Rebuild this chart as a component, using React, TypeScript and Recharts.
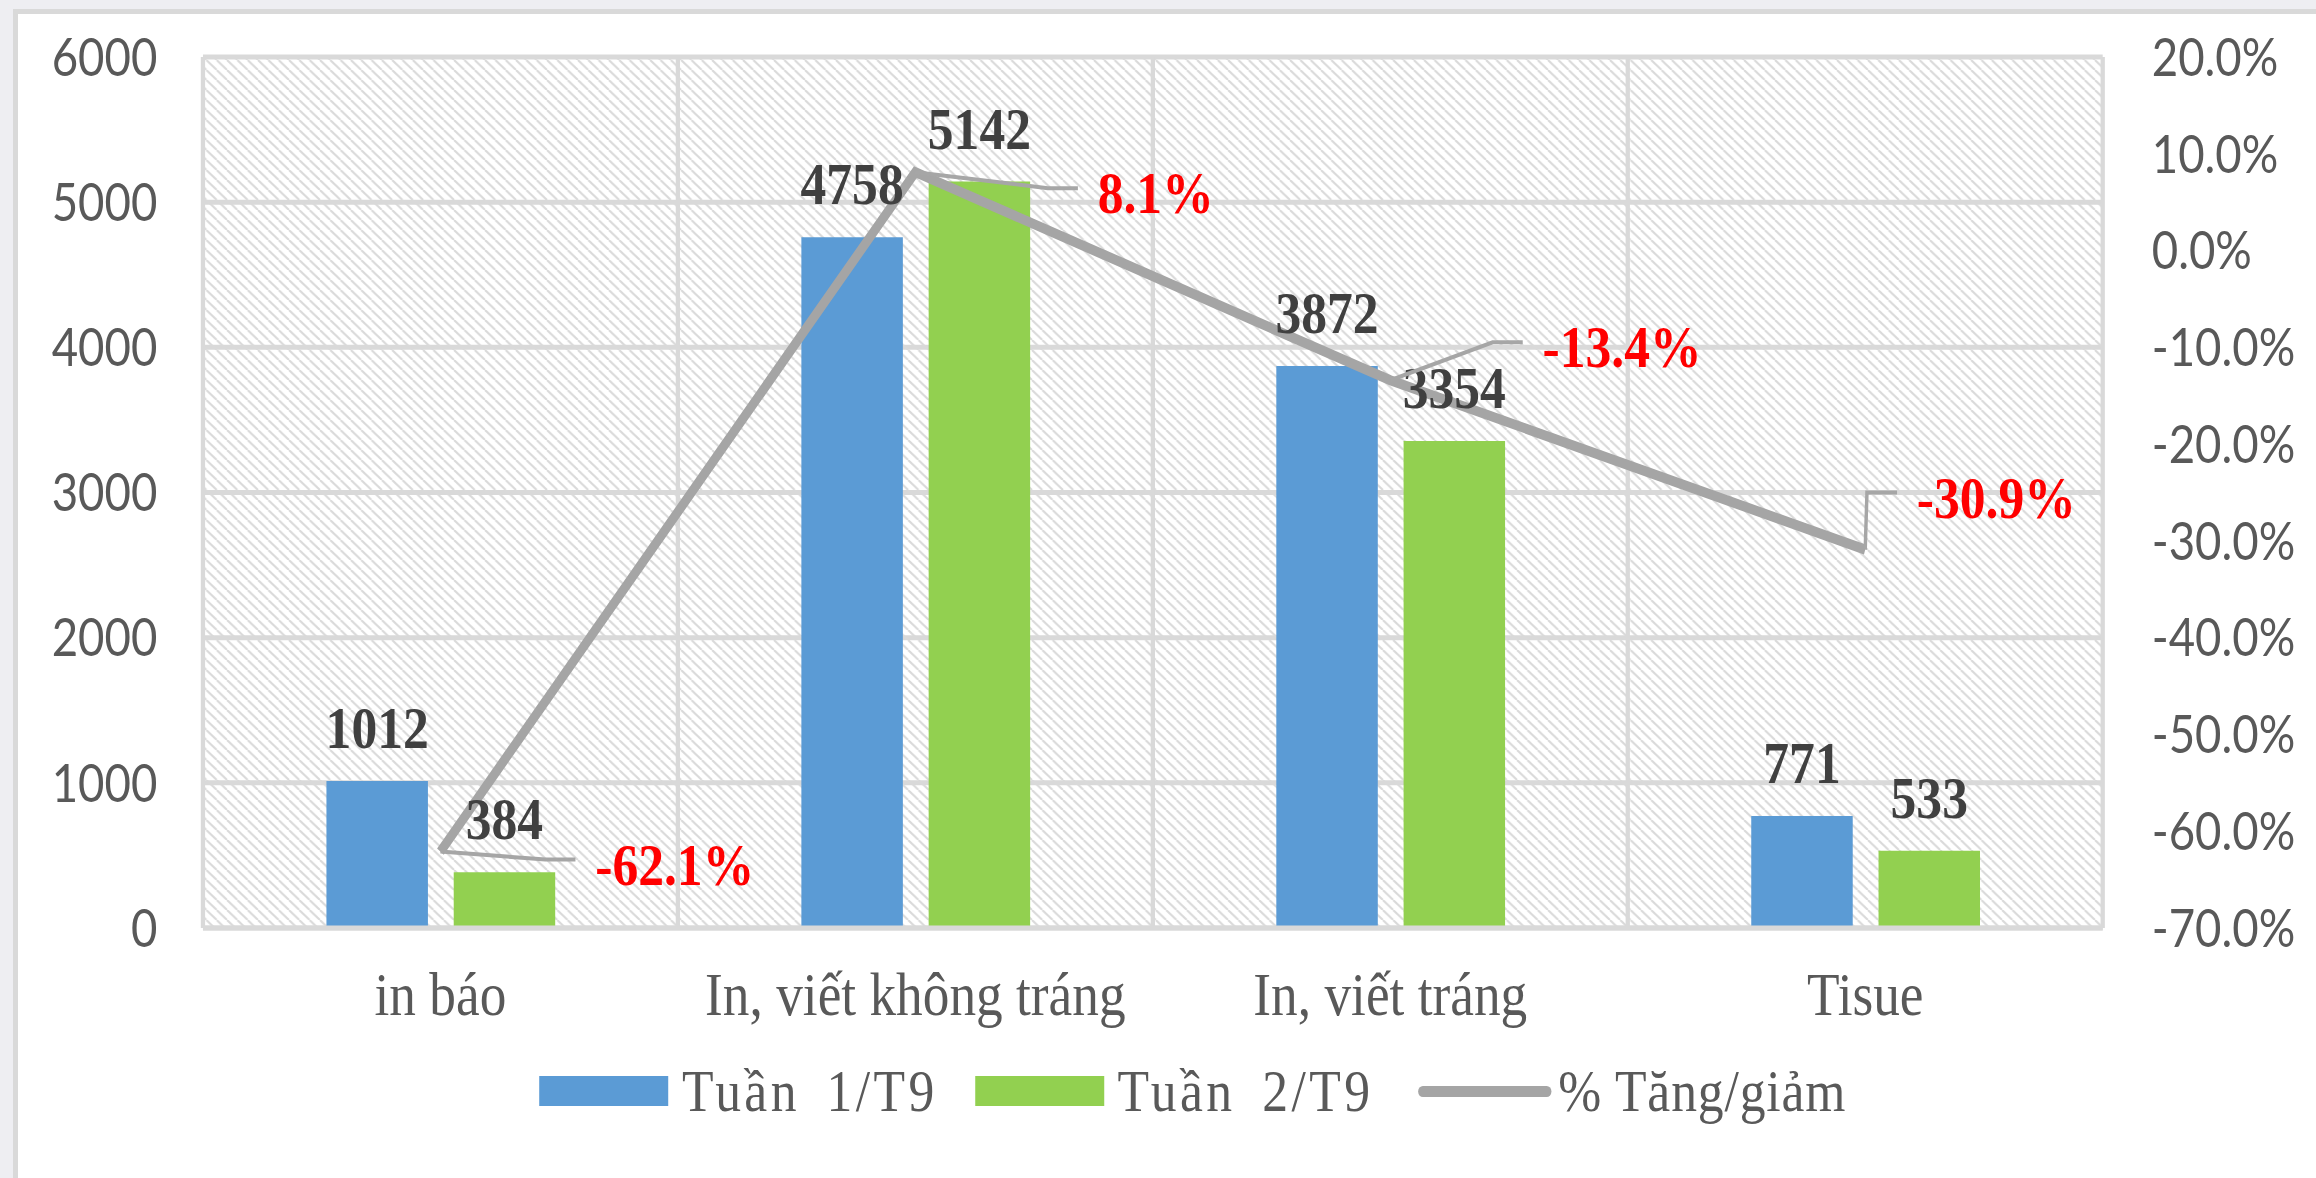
import React from 'react';
import {
    ComposedChart,
    Bar,
    Line,
    XAxis,
    YAxis,
    CartesianGrid,
    Legend,
    LabelList
} from 'recharts';

const categories = ['in báo', 'In, viết không tráng', 'In, viết tráng', 'Tisue'];
const week1 = [1012, 4758, 3872, 771];
const week2 = [384, 5142, 3354, 533];
const change = [-62.1, 8.1, -13.4, -30.9];
const leftTicks = [0, 1000, 2000, 3000, 4000, 5000, 6000];
const rightTicks = [-70, -60, -50, -40, -30, -20, -10, 0, 10, 20];
const seriesNames = ['Tuần 1/T9', 'Tuần 2/T9', '% Tăng/giảm'];

const data = categories.map((name, i) => ({
    name,
    w1: week1[i],
    w2: week2[i],
    pct: change[i]
}));

// the picture is squeezed sideways, so draw it wider and squeeze it back
const SQUEEZE = 0.86;
const W = Math.round(2316 / SQUEEZE);
const H = 1178;

// nudges for the red % labels, relative to their point: [dx, dy]
const pctNudge = [[180, 12], [212, 20], [177, -34], [60, -53]];

const serif = '"Liberation Serif", "Times New Roman", serif';
const sans = 'Lato, "Open Sans", sans-serif';

const PctLabel = (props: any) => {
    const index = props.index ?? 0;
    const x = props.x ?? props.viewBox?.x;
    const y = props.y ?? props.viewBox?.y;
    if (x == null || y == null) return null;
    const v = typeof props.value === 'number' ? props.value : change[index];
    const [dx, dy] = pctNudge[index] || [180, 0];
    const lx = x + dx;
    const ly = y + dy;
    return (
        <g>
            <polyline
                points={`${x},${y} ${lx - 58},${ly - 4} ${lx - 23},${ly - 4}`}
                fill="none"
                stroke="#a6a6a6"
                strokeWidth={4}
            />
            <text
                x={lx}
                y={ly}
                dy="0.35em"
                fill="#ff0000"
                fontFamily={serif}
                fontWeight="bold"
                fontSize={60}
            >
                {v.toFixed(1)}%
            </text>
        </g>
    );
};

const renderLegend = (props: any) => {
    // keep the legend in series order: both bars, then the line
    const payload = [...(props.payload || [])].sort(
        (a: any, b: any) => seriesNames.indexOf(a.value) - seriesNames.indexOf(b.value)
    );
    return (
        <div
            style={{
                display: 'flex',
                alignItems: 'center',
                height: 80,
                fontFamily: serif,
                fontSize: 60,
                color: '#595959',
                whiteSpace: 'nowrap'
            }}
        >
            {payload.map((e: any, i: number) => {
                const isLine = e.type === 'line';
                return (
                    <div key={i} style={{ display: 'flex', alignItems: 'center', marginRight: i === 0 ? 43 : 52 }}>
                        {isLine ? (
                            <div style={{ width: 155, height: 11, background: e.color, borderRadius: 6, marginRight: 8 }} />
                        ) : (
                            <div style={{ width: 150, height: 30, background: e.color, marginRight: 16 }} />
                        )}
                        <span style={{ letterSpacing: isLine ? 1 : 4, wordSpacing: isLine ? 0 : 12 }}>{e.value}</span>
                    </div>
                );
            })}
        </div>
    );
};

const gridX = (p: any) => {
    const o = p.offset;
    return categories.slice(1).map((_, i) => o.left + ((i + 1) * o.width) / categories.length);
};

export default function App() {
    return (
        <div
            style={{
                position: 'fixed',
                left: 0,
                top: 0,
                width: 2316,
                height: 1178,
                overflow: 'hidden',
                background: '#eeeef2'
            }}
        >
            <svg width={0} height={0} style={{ position: 'absolute' }}>
                <defs>
                    <pattern id="hatch" patternUnits="userSpaceOnUse" width={12} height={10}>
                        <rect width={12} height={10} fill="#ffffff" />
                        <line x1={0} y1={0} x2={12} y2={10} stroke="#dadada" strokeWidth={2.2} />
                        <line x1={-12} y1={0} x2={0} y2={10} stroke="#dadada" strokeWidth={2.2} />
                        <line x1={12} y1={0} x2={24} y2={10} stroke="#dadada" strokeWidth={2.2} />
                    </pattern>
                </defs>
            </svg>
            <div
                style={{
                    position: 'absolute',
                    left: 13,
                    top: 9,
                    width: 2400,
                    height: 1300,
                    background: '#ffffff',
                    border: '5px solid #d9d9d9'
                }}
            />
            <div style={{ position: 'absolute', left: 0, top: 0, transform: `scaleX(${SQUEEZE})`, transformOrigin: '0 0' }}>
                <ComposedChart
                    width={W}
                    height={H}
                    data={data}
                    margin={{ top: 57, right: 0, bottom: 47, left: 0 }}
                    barCategoryGap="26%"
                    barGap={30}
                >
                    <CartesianGrid
                        yAxisId="left"
                        stroke="#d9d9d9"
                        strokeWidth={5}
                        fill="url(#hatch)"
                        fillOpacity={1}
                        verticalCoordinatesGenerator={gridX}
                    />
                    <XAxis
                        dataKey="name"
                        interval={0}
                        tickLine={false}
                        tickSize={0}
                        tickMargin={43}
                        height={123}
                        axisLine={{ stroke: '#d9d9d9', strokeWidth: 5 }}
                        tick={{ fill: '#595959', fontSize: 62, fontFamily: serif }}
                    />
                    <YAxis
                        yAxisId="left"
                        width={236}
                        domain={[0, 6000]}
                        ticks={leftTicks}
                        tickLine={false}
                        tickSize={0}
                        tickMargin={53}
                        axisLine={{ stroke: '#d9d9d9', strokeWidth: 5 }}
                        tick={{ fill: '#595959', fontSize: 53, fontFamily: sans }}
                    />
                    <YAxis
                        yAxisId="right"
                        orientation="right"
                        width={W - 2445}
                        domain={[-70, 20]}
                        ticks={rightTicks}
                        tickLine={false}
                        tickSize={0}
                        tickMargin={57}
                        axisLine={{ stroke: '#d9d9d9', strokeWidth: 5 }}
                        tickFormatter={(v: number) => `${v.toFixed(1)}%`}
                        tick={{ fill: '#595959', fontSize: 53, fontFamily: sans, textAnchor: 'start' }}
                    />
                    <Bar yAxisId="left" dataKey="w1" name={seriesNames[0]} fill="#5b9bd5" isAnimationActive={false}>
                        <LabelList
                            dataKey="w1"
                            position="top"
                            offset={33}
                            fill="#404040"
                            fontSize={60}
                            fontWeight="bold"
                            fontFamily={serif}
                        />
                    </Bar>
                    <Bar yAxisId="left" dataKey="w2" name={seriesNames[1]} fill="#92d050" isAnimationActive={false}>
                        <LabelList
                            dataKey="w2"
                            position="top"
                            offset={33}
                            fill="#404040"
                            fontSize={60}
                            fontWeight="bold"
                            fontFamily={serif}
                        />
                    </Bar>
                    <Line
                        yAxisId="right"
                        type="linear"
                        dataKey="pct"
                        name={seriesNames[2]}
                        stroke="#a5a5a5"
                        strokeWidth={10}
                        dot={false}
                        activeDot={false}
                        isAnimationActive={false}
                        label={(p: any) => <PctLabel {...p} />}
                    />
                    <Legend
                        verticalAlign="bottom"
                        content={renderLegend}
                        wrapperStyle={{ left: 627, width: 1700 }}
                    />
                </ComposedChart>
            </div>
        </div>
    );
}
